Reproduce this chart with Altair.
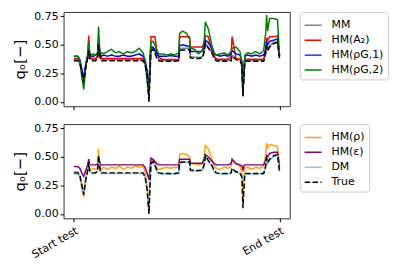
import altair as alt
import pandas as pd

# sample positions along the test
t = [0, 2, 4, 6, 8, 10, 12, 14, 15, 16, 18, 20, 22, 24, 25, 26, 27, 28, 30, 34,
     38, 42, 46, 50, 54, 58, 62, 66, 70, 72, 74, 76, 77, 78, 80, 82, 84, 86, 90, 94,
     98, 102, 106, 107, 110, 114, 117, 118, 122, 126, 130, 132, 133, 136, 140, 142, 144, 148, 152, 156,
     159, 160, 164, 168, 170, 171, 172, 173, 176, 180, 184, 188, 192, 194, 195, 196, 198, 202, 206, 208]

true_v = [0.36, 0.36, 0.36, 0.34, 0.26, 0.17, 0.30, 0.38, 0.45, 0.38, 0.36, 0.36, 0.36, 0.38, 0.51, 0.42, 0.37, 0.36, 0.36, 0.36,
          0.36, 0.36, 0.36, 0.36, 0.36, 0.36, 0.36, 0.36, 0.36, 0.33, 0.22, 0.00, 0.25, 0.44, 0.46, 0.43, 0.38, 0.36, 0.355, 0.355,
          0.355, 0.355, 0.36, 0.45, 0.455, 0.455, 0.455, 0.385, 0.38, 0.38, 0.385, 0.44, 0.51, 0.47, 0.42, 0.38, 0.36, 0.355, 0.355, 0.355,
          0.36, 0.40, 0.37, 0.36, 0.32, 0.05, 0.22, 0.355, 0.355, 0.355, 0.355, 0.355, 0.355, 0.42, 0.49, 0.45, 0.48, 0.51, 0.52, 0.38]

mm_v = [0.37, 0.37, 0.37, 0.35, 0.27, 0.18, 0.31, 0.39, 0.46, 0.39, 0.37, 0.37, 0.37, 0.39, 0.52, 0.43, 0.38, 0.37, 0.37, 0.37,
        0.37, 0.37, 0.37, 0.37, 0.37, 0.37, 0.37, 0.37, 0.37, 0.34, 0.23, 0.02, 0.27, 0.45, 0.47, 0.44, 0.39, 0.37, 0.365, 0.365,
        0.365, 0.365, 0.37, 0.46, 0.47, 0.47, 0.47, 0.395, 0.39, 0.39, 0.395, 0.45, 0.52, 0.48, 0.43, 0.39, 0.37, 0.365, 0.365, 0.365,
        0.37, 0.41, 0.38, 0.37, 0.33, 0.07, 0.24, 0.365, 0.365, 0.365, 0.365, 0.365, 0.365, 0.43, 0.50, 0.46, 0.49, 0.52, 0.53, 0.39]

a2_v = [0.38, 0.38, 0.38, 0.36, 0.28, 0.20, 0.32, 0.40, 0.58, 0.40, 0.38, 0.38, 0.38, 0.40, 0.54, 0.44, 0.39, 0.38, 0.38, 0.38,
        0.38, 0.38, 0.38, 0.38, 0.38, 0.38, 0.38, 0.38, 0.38, 0.35, 0.25, 0.05, 0.35, 0.57, 0.57, 0.57, 0.44, 0.39, 0.37, 0.37,
        0.37, 0.37, 0.37, 0.57, 0.57, 0.57, 0.57, 0.48, 0.48, 0.48, 0.48, 0.52, 0.58, 0.57, 0.44, 0.40, 0.375, 0.373, 0.373, 0.373,
        0.40, 0.57, 0.38, 0.375, 0.34, 0.10, 0.25, 0.373, 0.373, 0.373, 0.373, 0.373, 0.373, 0.45, 0.56, 0.54, 0.57, 0.57, 0.58, 0.40]

g1_v = [0.40, 0.40, 0.40, 0.37, 0.29, 0.20, 0.33, 0.41, 0.47, 0.42, 0.40, 0.40, 0.41, 0.42, 0.54, 0.45, 0.41, 0.40, 0.41, 0.40,
        0.41, 0.40, 0.40, 0.41, 0.40, 0.40, 0.41, 0.42, 0.40, 0.37, 0.28, 0.10, 0.35, 0.48, 0.48, 0.46, 0.42, 0.40, 0.40, 0.40,
        0.405, 0.40, 0.40, 0.49, 0.50, 0.49, 0.49, 0.44, 0.44, 0.44, 0.44, 0.48, 0.54, 0.52, 0.46, 0.42, 0.41, 0.40, 0.41, 0.40,
        0.42, 0.45, 0.42, 0.41, 0.36, 0.10, 0.26, 0.40, 0.41, 0.40, 0.41, 0.40, 0.41, 0.46, 0.53, 0.50, 0.53, 0.54, 0.55, 0.40]

g2_v = [0.40, 0.40, 0.40, 0.36, 0.22, 0.11, 0.30, 0.42, 0.53, 0.43, 0.41, 0.42, 0.41, 0.43, 0.66, 0.48, 0.42, 0.43, 0.42, 0.44,
        0.46, 0.43, 0.44, 0.42, 0.44, 0.43, 0.44, 0.47, 0.43, 0.36, 0.20, 0.08, 0.38, 0.52, 0.53, 0.50, 0.45, 0.42, 0.42, 0.41,
        0.42, 0.41, 0.43, 0.60, 0.62, 0.60, 0.55, 0.47, 0.46, 0.42, 0.45, 0.55, 0.70, 0.64, 0.48, 0.43, 0.41, 0.42, 0.43, 0.41,
        0.44, 0.47, 0.48, 0.44, 0.33, 0.05, 0.30, 0.41, 0.43, 0.42, 0.44, 0.42, 0.45, 0.60, 0.76, 0.62, 0.73, 0.73, 0.72, 0.40]

rho_v = [0.37, 0.37, 0.37, 0.33, 0.22, 0.15, 0.30, 0.40, 0.45, 0.40, 0.39, 0.40, 0.39, 0.41, 0.57, 0.44, 0.40, 0.39, 0.41, 0.39,
         0.41, 0.40, 0.42, 0.39, 0.41, 0.40, 0.42, 0.41, 0.42, 0.37, 0.25, 0.08, 0.33, 0.46, 0.47, 0.44, 0.40, 0.39, 0.40, 0.41,
         0.40, 0.41, 0.41, 0.52, 0.53, 0.52, 0.50, 0.44, 0.44, 0.43, 0.44, 0.52, 0.60, 0.57, 0.47, 0.42, 0.40, 0.39, 0.41, 0.40,
         0.42, 0.46, 0.44, 0.42, 0.36, 0.12, 0.30, 0.40, 0.41, 0.39, 0.41, 0.40, 0.42, 0.52, 0.62, 0.58, 0.61, 0.60, 0.59, 0.40]

eps_v = [0.415, 0.415, 0.415, 0.40, 0.36, 0.33, 0.38, 0.43, 0.48, 0.43, 0.43, 0.43, 0.43, 0.44, 0.49, 0.46, 0.43, 0.43, 0.43, 0.43,
         0.43, 0.43, 0.43, 0.43, 0.43, 0.43, 0.43, 0.43, 0.43, 0.41, 0.36, 0.30, 0.40, 0.49, 0.48, 0.46, 0.44, 0.43, 0.43, 0.43,
         0.43, 0.43, 0.43, 0.48, 0.48, 0.48, 0.48, 0.445, 0.445, 0.445, 0.445, 0.48, 0.52, 0.50, 0.46, 0.44, 0.43, 0.43, 0.43, 0.43,
         0.44, 0.48, 0.44, 0.43, 0.42, 0.38, 0.42, 0.43, 0.43, 0.43, 0.43, 0.43, 0.43, 0.47, 0.51, 0.50, 0.53, 0.54, 0.54, 0.42]

dm_v = [0.35, 0.35, 0.35, 0.33, 0.26, 0.17, 0.30, 0.37, 0.44, 0.37, 0.355, 0.355, 0.355, 0.37, 0.50, 0.41, 0.36, 0.355, 0.355, 0.355,
        0.355, 0.355, 0.355, 0.355, 0.355, 0.355, 0.355, 0.355, 0.355, 0.32, 0.22, 0.02, 0.26, 0.43, 0.45, 0.42, 0.37, 0.355, 0.35, 0.35,
        0.35, 0.35, 0.355, 0.44, 0.45, 0.45, 0.45, 0.38, 0.375, 0.375, 0.38, 0.43, 0.50, 0.46, 0.41, 0.37, 0.355, 0.35, 0.35, 0.35,
        0.355, 0.39, 0.365, 0.355, 0.33, 0.30, 0.34, 0.35, 0.35, 0.35, 0.35, 0.35, 0.35, 0.41, 0.48, 0.44, 0.47, 0.50, 0.51, 0.37]

top_names = ["MM", "HM(A₂)", "HM(ρG,1)", "HM(ρG,2)", "True"]
top_legend = ["MM", "HM(A₂)", "HM(ρG,1)", "HM(ρG,2)"]
top_values = [mm_v, a2_v, g1_v, g2_v, true_v]
top_colors = ["#808080", "#ff0000", "#0000ff", "#008000", "#000000"]

bot_names = ["HM(ρ)", "HM(ε)", "DM", "True"]
bot_legend = ["HM(ρ)", "HM(ε)", "DM", "True"]
bot_values = [rho_v, eps_v, dm_v, true_v]
bot_colors = ["#ffa500", "#800080", "#87ceeb", "#000000"]

x_ticks = [0, 208]
y_ticks = [0.0, 0.25, 0.5, 0.75]


def panel(names, legend_names, values, colors, show_labels):
    rows = []
    for n, vals in zip(names, values):
        for ti, v in zip(t, vals):
            rows.append({"t": ti, "v": v, "s": n})
    df = pd.DataFrame(rows)
    dashes = [[5.5, 2.4] if n == "True" else [1, 0] for n in names]
    if show_labels:
        xaxis = alt.Axis(values=x_ticks, title=None, grid=False, domain=False, tickSize=3.5,
                         labelExpr="datum.value == 0 ? 'Start test' : 'End test'",
                         labelAngle=330, labelAlign="right", labelBaseline="top",
                         labelFontSize=11, labelPadding=3)
    else:
        xaxis = alt.Axis(values=x_ticks, title=None, grid=False, domain=False, tickSize=3.5, labels=False)
    yaxis = alt.Axis(values=y_ticks, format=".2f", title="qₒ[−]", grid=False, domain=False,
                     tickSize=3.5, labelFontSize=11, titleFontSize=15, titleFontWeight="normal",
                     titlePadding=6)
    leg = alt.Legend(title=None, orient="right", offset=10, padding=4, strokeColor="#cccccc",
                     cornerRadius=3, fillColor="white", labelFontSize=11, symbolType="stroke",
                     symbolSize=289, symbolStrokeWidth=1.5, rowPadding=0, labelOffset=9,
                     values=legend_names)
    layers = []
    for n in names:
        layers.append(
            alt.Chart(df).transform_filter(alt.datum.s == n).mark_line(strokeWidth=1.5).encode(
                x=alt.X("t:Q", scale=alt.Scale(domain=[-10.4, 218.4], nice=False, zero=False), axis=xaxis),
                y=alt.Y("v:Q", scale=alt.Scale(domain=[-0.038, 0.787], nice=False, zero=False), axis=yaxis),
                color=alt.Color("s:N", scale=alt.Scale(domain=names, range=colors), legend=leg),
                strokeDash=alt.StrokeDash("s:N", scale=alt.Scale(domain=names, range=dashes), legend=leg),
            )
        )
    return alt.layer(*layers).properties(width=228, height=95)


top = panel(top_names, top_legend, top_values, top_colors, False)
bot = panel(bot_names, bot_legend, bot_values, bot_colors, True)

chart = alt.vconcat(top, bot, spacing=10).resolve_scale(
    color="independent", strokeDash="independent"
).properties(
    padding={"left": 4, "top": 0, "right": 2, "bottom": 0}
).configure(
    font="DejaVu Sans"
).configure_view(
    stroke="#333333", strokeWidth=1
).configure_axis(
    labelColor="black", tickColor="black", titleColor="black"
)

chart.save("out.html", embed_options={"renderer": "svg", "actions": False})
